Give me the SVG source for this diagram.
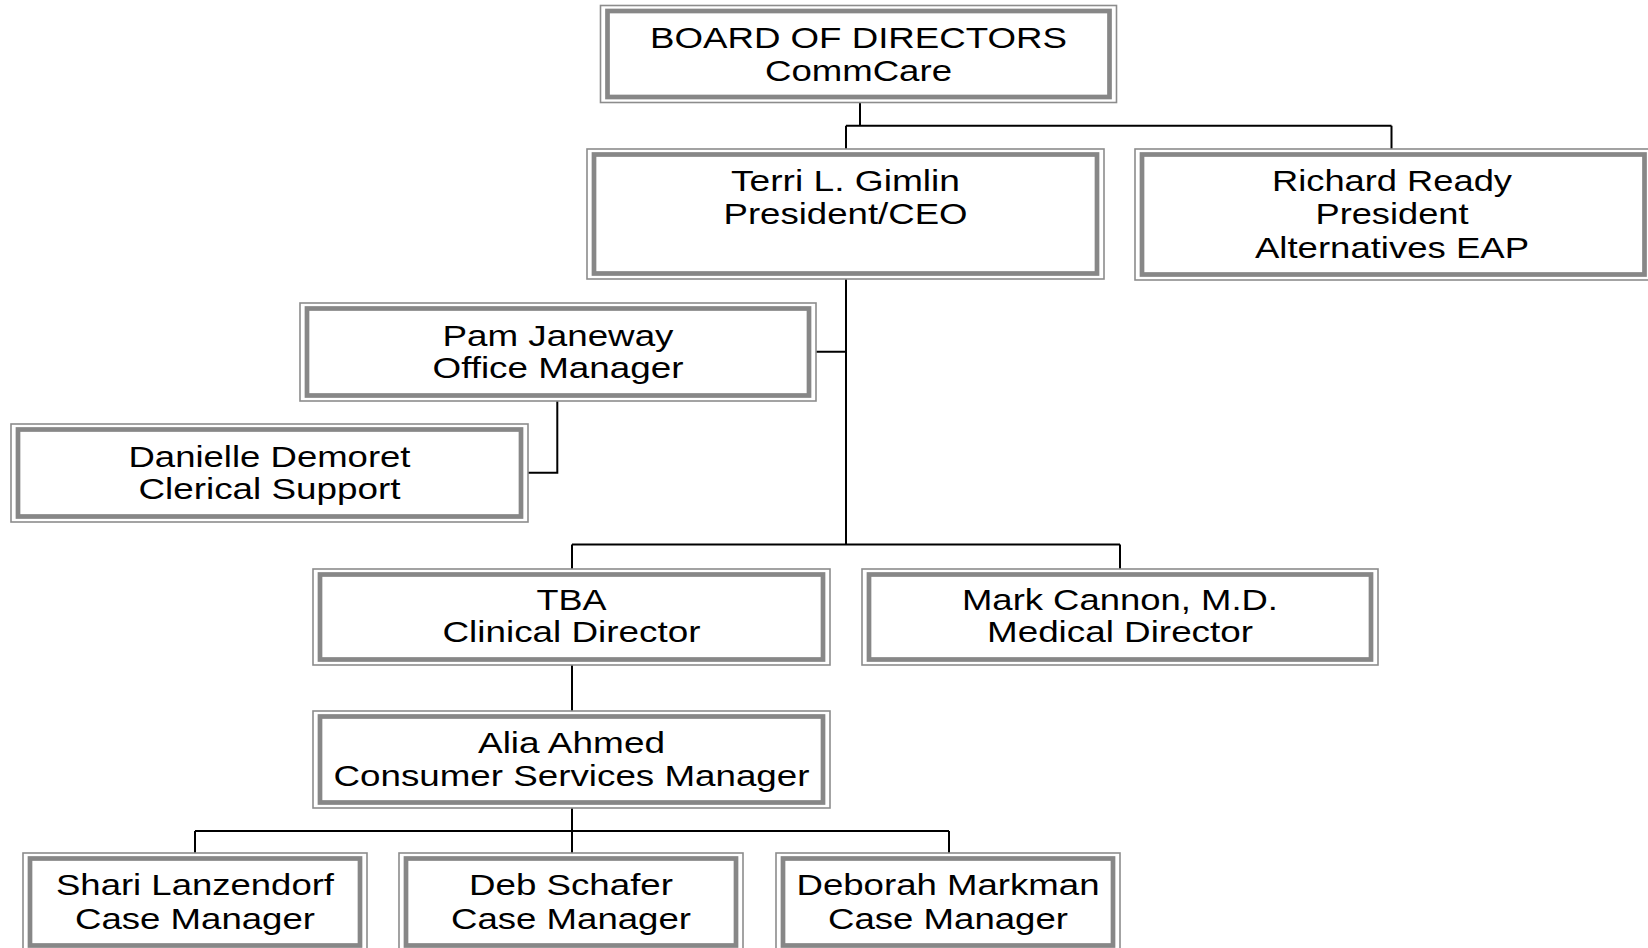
<svg xmlns="http://www.w3.org/2000/svg" width="1648" height="948" viewBox="0 0 1648 948">
<style>
.o{fill:#fff;stroke:#8c8c8c;stroke-width:1.6}
.i{fill:none;stroke:#878787;stroke-width:4.7}
.t{font-family:"Liberation Sans",Arial,sans-serif;font-size:29.5px;fill:#000;text-anchor:middle}
.c{fill:none;stroke:#000;stroke-width:2}
</style>
<g id="connectors">
<path class="c" d="M860 102.5V125.7M846 125.7H1391.5M846 125.7V149M1391.5 125.7V149"/>
<path class="c" d="M846 279V544.5M816 351.7H846"/>
<path class="c" d="M557.3 401V472.7H528"/>
<path class="c" d="M572 544.5H1120M572 544.5V569M1120 544.5V569"/>
<path class="c" d="M572 665V711"/>
<path class="c" d="M572 808V853M195 831H949M195 831V853M949 831V853"/>
</g>
<g id="board">
<rect class="o" x="600.5" y="5.5" width="516" height="97"/>
<rect class="i" x="607.5" y="11" width="502" height="86"/>
<text class="t" x="858.5" y="48" textLength="417" lengthAdjust="spacingAndGlyphs">BOARD OF DIRECTORS</text>
<text class="t" x="858.5" y="81" textLength="187" lengthAdjust="spacingAndGlyphs">CommCare</text>
</g>
<g id="terri">
<rect class="o" x="587" y="149" width="517" height="130"/>
<rect class="i" x="594" y="154.5" width="503" height="119"/>
<text class="t" x="845.5" y="191" textLength="229" lengthAdjust="spacingAndGlyphs">Terri L. Gimlin</text>
<text class="t" x="845.5" y="224" textLength="244" lengthAdjust="spacingAndGlyphs">President/CEO</text>
</g>
<g id="richard">
<rect class="o" x="1135" y="149" width="516" height="131"/>
<rect class="i" x="1142" y="154.5" width="502.5" height="120"/>
<text class="t" x="1392" y="191" textLength="240" lengthAdjust="spacingAndGlyphs">Richard Ready</text>
<text class="t" x="1392" y="224" textLength="153" lengthAdjust="spacingAndGlyphs">President</text>
<text class="t" x="1392" y="258" textLength="274" lengthAdjust="spacingAndGlyphs">Alternatives EAP</text>
</g>
<g id="pam">
<rect class="o" x="300" y="303" width="516" height="98"/>
<rect class="i" x="307" y="308.5" width="502" height="87"/>
<text class="t" x="558" y="346" textLength="231" lengthAdjust="spacingAndGlyphs">Pam Janeway</text>
<text class="t" x="558" y="378" textLength="251" lengthAdjust="spacingAndGlyphs">Office Manager</text>
</g>
<g id="danielle">
<rect class="o" x="11" y="424" width="517" height="98"/>
<rect class="i" x="18" y="429.5" width="503" height="87"/>
<text class="t" x="269.5" y="467" textLength="282" lengthAdjust="spacingAndGlyphs">Danielle Demoret</text>
<text class="t" x="269.5" y="499" textLength="262" lengthAdjust="spacingAndGlyphs">Clerical Support</text>
</g>
<g id="tba">
<rect class="o" x="313" y="569" width="517" height="96"/>
<rect class="i" x="320" y="574.5" width="503" height="85"/>
<text class="t" x="571.5" y="610" textLength="70" lengthAdjust="spacingAndGlyphs">TBA</text>
<text class="t" x="571.5" y="642" textLength="258" lengthAdjust="spacingAndGlyphs">Clinical Director</text>
</g>
<g id="mark">
<rect class="o" x="862" y="569" width="516" height="96"/>
<rect class="i" x="869" y="574.5" width="502" height="85"/>
<text class="t" x="1120" y="610" textLength="316" lengthAdjust="spacingAndGlyphs">Mark Cannon, M.D.</text>
<text class="t" x="1120" y="642" textLength="266" lengthAdjust="spacingAndGlyphs">Medical Director</text>
</g>
<g id="alia">
<rect class="o" x="313" y="711" width="517" height="97"/>
<rect class="i" x="320" y="716.5" width="503" height="86"/>
<text class="t" x="571.5" y="753" textLength="187" lengthAdjust="spacingAndGlyphs">Alia Ahmed</text>
<text class="t" x="571.5" y="786" textLength="476" lengthAdjust="spacingAndGlyphs">Consumer Services Manager</text>
</g>
<g id="shari">
<rect class="o" x="23" y="853" width="344" height="98"/>
<rect class="i" x="30" y="858.5" width="330" height="87"/>
<text class="t" x="195" y="895" textLength="278" lengthAdjust="spacingAndGlyphs">Shari Lanzendorf</text>
<text class="t" x="195" y="929" textLength="240" lengthAdjust="spacingAndGlyphs">Case Manager</text>
</g>
<g id="deb">
<rect class="o" x="399" y="853" width="344" height="98"/>
<rect class="i" x="406" y="858.5" width="330" height="87"/>
<text class="t" x="571" y="895" textLength="204" lengthAdjust="spacingAndGlyphs">Deb Schafer</text>
<text class="t" x="571" y="929" textLength="240" lengthAdjust="spacingAndGlyphs">Case Manager</text>
</g>
<g id="deborah">
<rect class="o" x="776" y="853" width="344" height="98"/>
<rect class="i" x="783" y="858.5" width="330" height="87"/>
<text class="t" x="948" y="895" textLength="303" lengthAdjust="spacingAndGlyphs">Deborah Markman</text>
<text class="t" x="948" y="929" textLength="240" lengthAdjust="spacingAndGlyphs">Case Manager</text>
</g>
</svg>
